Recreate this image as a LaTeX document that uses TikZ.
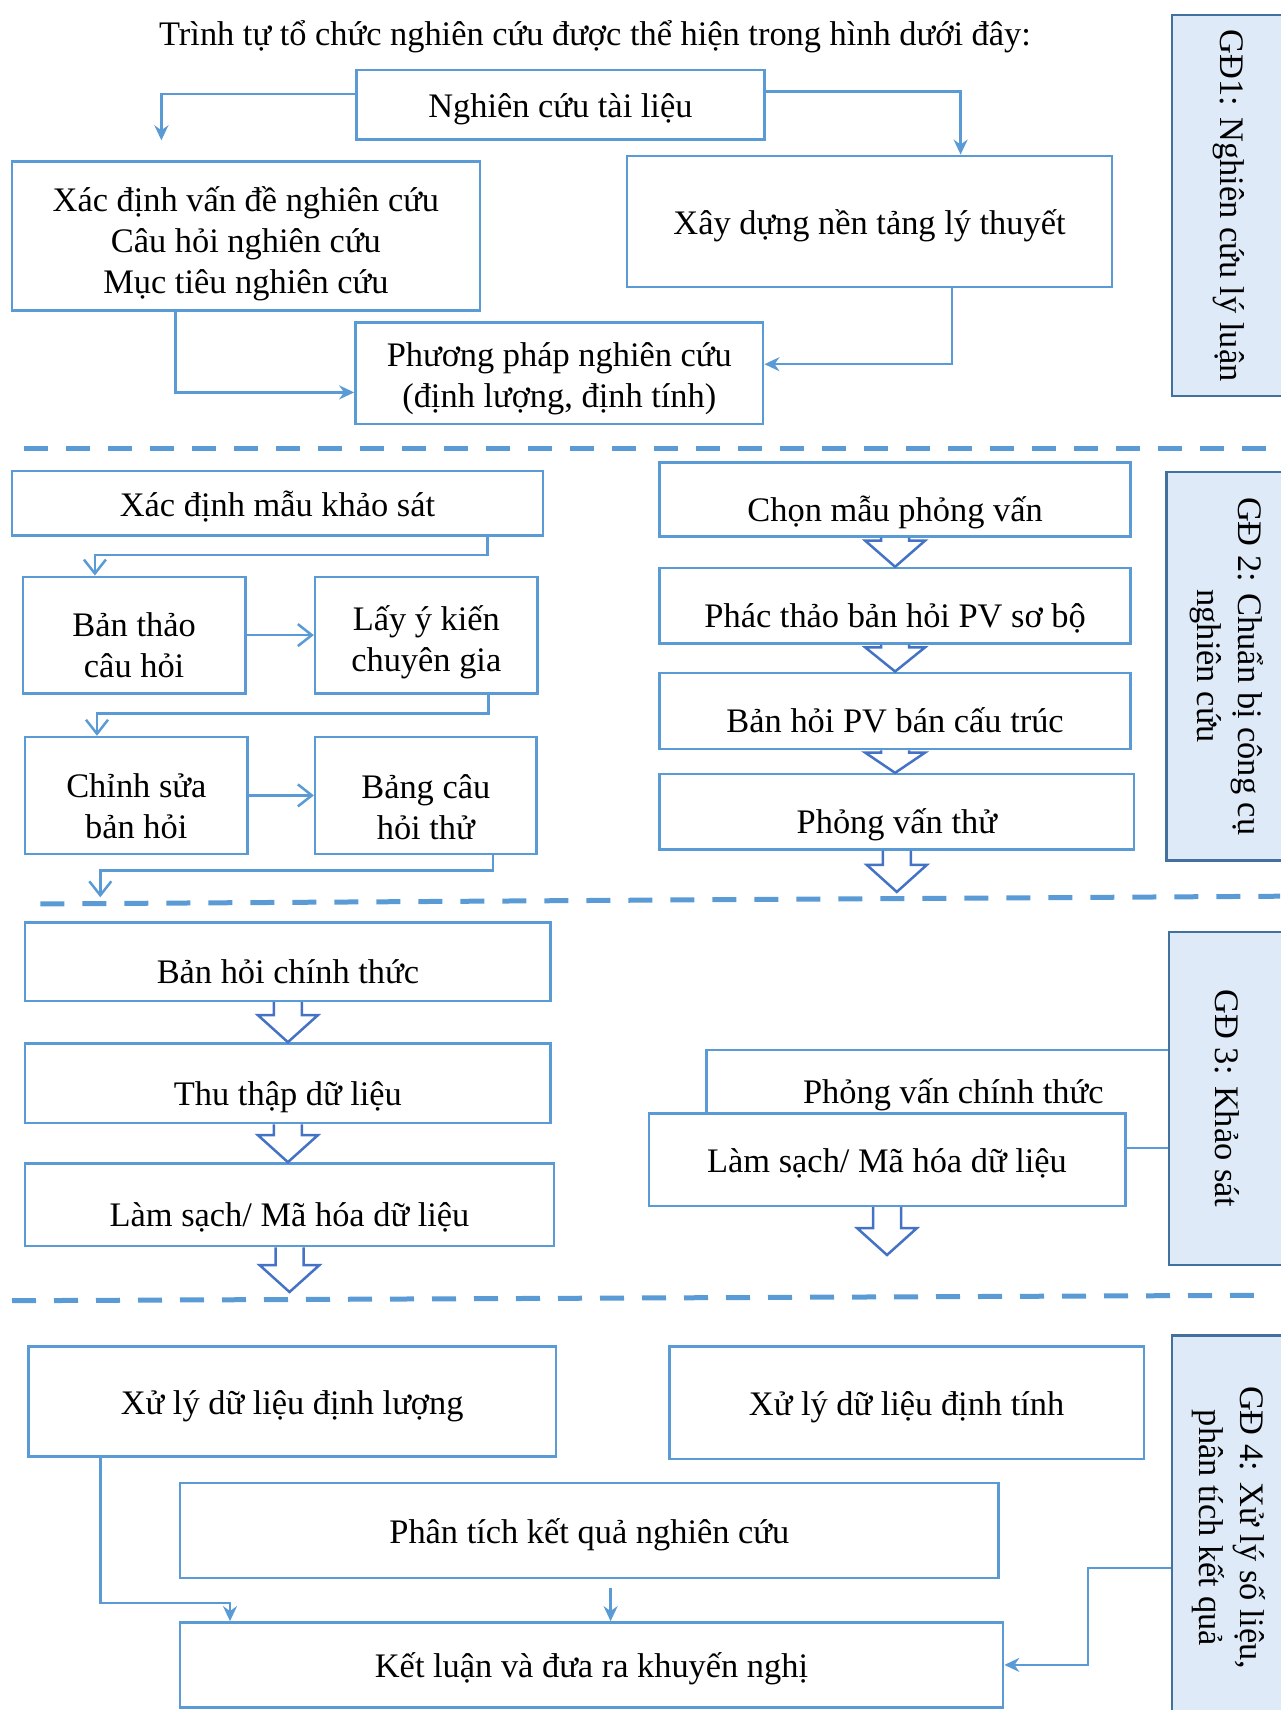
\documentclass[tikz,border=0pt]{standalone}
\usepackage{fontspec}
\setmainfont{Liberation Serif}
\usepackage{xcolor}
\usepackage{tikz}
\usetikzlibrary{arrows.meta,calc}
\definecolor{boxblue}{RGB}{91,155,213}
\definecolor{arrblue}{RGB}{68,114,196}
\definecolor{gdblue}{RGB}{65,113,156}
\definecolor{gdfill}{RGB}{222,234,247}

\begin{document}
\begin{tikzpicture}[x=1pt, y=-1pt, font=\fontsize{34.4}{41}\selectfont,
  stepbox/.style={draw=boxblue, line width=2.5pt, fill=white, align=center, inner sep=0pt},
  onel/.style={text height=34pt, text depth=8pt},
  lowl/.style={text height=52pt, text depth=8pt},
  highl/.style={text height=34pt, text depth=26pt},
  gdbox/.style={draw=gdblue, line width=2.5pt, fill=gdfill, inner sep=0pt},
  conn/.style={draw=boxblue, line width=2.5pt},
  fulltip/.style={conn, -{Stealth[length=15pt, width=14pt]}},
  barbtip/.style={conn, -{Straight Barb[length=14pt, width=22pt]}},
  blockarrow/.style={draw=arrblue, line width=2.5pt, line join=miter,
    to path={let \p1=(\tikztostart), \p2=(\tikztotarget), \n1={min(27pt,0.9*(\y1-\y2))} in
      (\x1-14pt,\y1) -- (\x1-14pt,\y2+\n1) -- (\x1-30pt,\y2+\n1) -- (\x1,\y2)
      -- (\x1+30pt,\y2+\n1) -- (\x1+14pt,\y2+\n1) -- (\x1+14pt,\y1)}},
  stagesep/.style={draw=boxblue, line width=5pt, dash pattern=on 24pt off 18pt}]
\useasboundingbox (0,0) rectangle (1280,1710);

\node[onel] at (595, 33) (title) {Trình tự tổ chức nghiên cứu được thể hiện trong hình dưới đây:};

% GD1
\node[stepbox, onel, minimum width=407.8, minimum height=69.8] at (560.4, 104.7) (tailieu) {Nghiên cứu tài liệu};
\node[stepbox, minimum width=467.7, minimum height=149.4] at (245.9, 236) (vande) {\rule{0pt}{41pt}Xác định vấn đề nghiên cứu\\Câu hỏi nghiên cứu\\Mục tiêu nghiên cứu};
\node[stepbox, onel, minimum width=485, minimum height=130.9] at (869.5, 221.3) (xaydung) {Xây dựng nền tảng lý thuyết};
\node[stepbox, minimum width=407.8, minimum height=101.4] at (559.3, 373.4) (phuongphap) {\rule{0pt}{35pt}Phương pháp nghiên cứu\\(định lượng, định tính)};
\node[gdbox, minimum width=113, minimum height=380.5] at (1228.5, 205.5) (gd1) {\rotatebox{-90}{GĐ1: Nghiên cứu lý luận}};
\draw[fulltip] ([yshift=10.7pt]tailieu.west) -| ([xshift=-84.5pt, yshift=19.7pt]vande.north);
\draw[fulltip] ([yshift=13.1pt]tailieu.east) -| ([xshift=91.1pt]xaydung.north);
\draw[fulltip] ([xshift=-70.4pt]vande.south) |- ([yshift=-19pt]phuongphap.west);
\draw[fulltip] ([xshift=82.3pt]xaydung.south) |- ([yshift=9.2pt]phuongphap.east);

\draw[stagesep] (24, 448) -- (1270, 448);

% GD2
\node[stepbox, onel, minimum width=531, minimum height=64.3] at (277.5, 503.2) (mauks) {Xác định mẫu khảo sát};
\node[stepbox, minimum width=222.4, minimum height=116.6] at (134.1, 635.1) (banthao) {\rule{0pt}{44.6pt}Bản thảo\\câu hỏi};
\node[stepbox, minimum width=222.4, minimum height=116.6] at (426.3, 635.1) (layykien) {\rule{0pt}{40pt}Lấy ý kiến\\chuyên gia};
\node[stepbox, minimum width=222.4, minimum height=116.7] at (136.3, 795.4) (chinhsua) {\rule{0pt}{44.6pt}Chỉnh sửa\\bản hỏi};
\node[stepbox, minimum width=221.3, minimum height=116.7] at (425.8, 795.4) (bangthu) {\rule{0pt}{46.8pt}Bảng câu\\hỏi thử};
\coordinate (end2) at (100.3, 897.3);
\draw[barbtip] ([xshift=209.9pt]mauks.south) -- ++(0, 18.6) -| ([xshift=-39.2pt]banthao.north);
\draw[barbtip] (banthao.east) -- (layykien.west);
\draw[barbtip] ([xshift=62.2pt]layykien.south) -- ++(0, 18.6) -| ([xshift=-39.3pt]chinhsua.north);
\draw[barbtip] (chinhsua.east) -- (bangthu.west);
\draw[barbtip] ([xshift=67pt]bangthu.south) -- ++(0, 15.3) -| (end2);

\node[stepbox, lowl, minimum width=471, minimum height=74.1] at (895.1, 499.4) (chonmau) {Chọn mẫu phỏng vấn};
\node[stepbox, lowl, minimum width=471, minimum height=75.3] at (895.1, 605.7) (phacthao) {Phác thảo bản hỏi PV sơ bộ};
\node[stepbox, lowl, minimum width=471, minimum height=76.3] at (895.1, 710.9) (bancautruc) {Bản hỏi PV bán cấu trúc};
\node[stepbox, lowl, minimum width=474.3, minimum height=75.2] at (896.8, 811.7) (pvthu) {Phỏng vấn thử};
\coordinate (end5) at (896.8, 891.9);
\draw[blockarrow] (chonmau.south) to (phacthao.north);
\draw[blockarrow] (phacthao.south) to (bancautruc.north);
\draw[blockarrow] (bancautruc.south) to (pvthu.north);
\draw[blockarrow] (pvthu.south) to (end5);
\node[gdbox, minimum width=118.4, minimum height=388.1] at (1225.8, 666.2) (gd2) {\rotatebox{-90}{\begin{tabular}{@{}c@{}}GĐ 2: Chuẩn bị công cụ\\nghiên cứu\end{tabular}}};

\draw[stagesep] (40.3, 903.9) -- (1280, 896.2);

% GD3
\node[stepbox, lowl, minimum width=525.5, minimum height=78.5] at (287.9, 961.6) (chinhthuc) {Bản hỏi chính thức};
\node[stepbox, lowl, minimum width=525.5, minimum height=79.6] at (287.9, 1083.2) (thuthap) {Thu thập dữ liệu};
\node[stepbox, lowl, minimum width=528.8, minimum height=82.8] at (289.5, 1204.8) (lamsach) {Làm sạch/ Mã hóa dữ liệu};
\coordinate (end3) at (289.5, 1292);
\draw[blockarrow] (chinhthuc.south) to (thuthap.north);
\draw[blockarrow] (thuthap.south) to (lamsach.north);
\draw[blockarrow] (lamsach.south) to (end3);

\node[stepbox, highl, minimum width=493.5, minimum height=98] at (953.3, 1099) (pvchinhthuc) {Phỏng vấn chính thức};
\node[stepbox, onel, minimum width=476.5, minimum height=92.7] at (887, 1159.6) (mahoa) {Làm sạch/ Mã hóa dữ liệu};
\coordinate (end4) at (887, 1255);
\draw[blockarrow] (mahoa.south) to (end4);
\node[gdbox, minimum width=116.2, minimum height=332.6] at (1226.9, 1098.5) (gd3) {\rotatebox{-90}{GĐ 3: Khảo sát}};

\draw[stagesep] (12, 1300.7) -- (1253.8, 1295.3);

% GD4
\node[stepbox, onel, minimum width=527.7, minimum height=110.1] at (292.2, 1401.6) (dinhluong) {Xử lý dữ liệu định lượng};
\node[stepbox, onel, minimum width=474.3, minimum height=112.3] at (906.6, 1402.7) (dinhtinh) {Xử lý dữ liệu định tính};
\node[stepbox, onel, minimum width=818.8, minimum height=94.9] at (589.3, 1530.3) (phantich) {Phân tích kết quả nghiên cứu};
\node[stepbox, onel, minimum width=823.2, minimum height=85] at (591.5, 1664.9) (ketluan) {Kết luận và đưa ra khuyến nghị};
\node[gdbox, minimum width=113, minimum height=384.4] at (1228.5, 1527.8) (gd4) {\rotatebox{-90}{\begin{tabular}{@{}c@{}}GĐ 4: Xử lý số liệu,\\phân tích kết quả\end{tabular}}};
\draw[fulltip] ([xshift=-191.9pt]dinhluong.south) -- ++(0, 145) -| ([xshift=-361.5pt]ketluan.north);
\draw[fulltip, shorten <=8.7pt] ([xshift=21.3pt]phantich.south) -- ([xshift=21.3pt]phantich.south |- ketluan.north);
\draw[fulltip] ([yshift=-40.1pt]gd4.west) -- ++(-83, 0) |- (ketluan.east);

\end{tikzpicture}
\end{document}
